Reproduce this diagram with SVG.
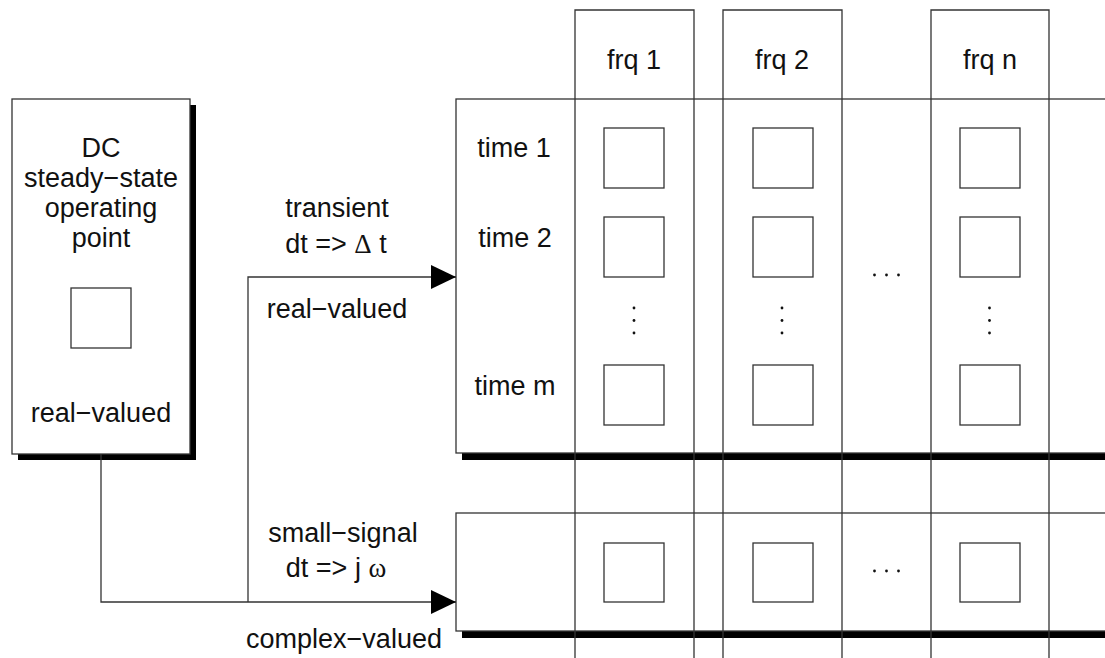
<svg xmlns="http://www.w3.org/2000/svg" width="1105" height="658" viewBox="0 0 1105 658">
  <defs>
    <style>
      .box { fill: #fff; stroke: #333; stroke-width: 1.3; }
      .shadow { fill: #000; stroke: none; }
      .cell { fill: none; stroke: #333; stroke-width: 1.3; }
      .grid { fill: none; stroke: #333; stroke-width: 1.3; }
      .wire { fill: none; stroke: #333; stroke-width: 1.3; }
      .dot { fill: #111; }
      text { font-family: "Liberation Sans", Arial, Helvetica, sans-serif; font-size: 27px; fill: #111; text-anchor: middle; }
      .sym { font-family: "Liberation Serif", "Times New Roman", serif; }
    </style>
    <marker id="arrow" markerUnits="userSpaceOnUse" markerWidth="26" markerHeight="26" refX="25" refY="12" orient="auto">
      <path d="M0,0 L25,12 L0,24 Z" fill="#000"/>
    </marker>
  </defs>

  <!-- DC operating point -->
  <g id="dc-node">
    <rect class="shadow" x="18" y="105" width="178" height="355"/>
    <rect class="box" x="12" y="99" width="178" height="355"/>
    <text x="101" y="157">DC</text>
    <text x="101" y="187">steady−state</text>
    <text x="101" y="217">operating</text>
    <text x="101" y="247">point</text>
    <rect class="cell" x="71" y="288" width="60" height="60"/>
    <text x="101" y="422">real−valued</text>
  </g>

  <!-- transient / time-domain block -->
  <g id="transient-block">
    <rect class="shadow" x="462" y="105" width="700" height="355"/>
    <rect class="box" x="456" y="99" width="700" height="354"/>
    <text x="514" y="157">time 1</text>
    <text x="515" y="247">time 2</text>
    <text x="515" y="395">time m</text>
  </g>

  <!-- small-signal block -->
  <g id="smallsignal-block">
    <rect class="shadow" x="462" y="519" width="700" height="119"/>
    <rect class="box" x="456" y="513" width="700" height="118"/>
  </g>

  <!-- frequency columns -->
  <g id="frequency-columns">
    <path class="grid" d="M575,658 V10 H694 V658 M723,658 V10 H842 V658 M931,658 V10 H1049 V658"/>
    <text x="634" y="69">frq 1</text>
    <text x="782" y="69">frq 2</text>
    <text x="990" y="69">frq n</text>
  </g>

  <!-- solution cells -->
  <g id="cells">
    <rect class="cell" x="604" y="128" width="60" height="60"/>
    <rect class="cell" x="753" y="128" width="60" height="60"/>
    <rect class="cell" x="960" y="128" width="60" height="60"/>
    <rect class="cell" x="604" y="217" width="60" height="60"/>
    <rect class="cell" x="753" y="217" width="60" height="60"/>
    <rect class="cell" x="960" y="217" width="60" height="60"/>
    <rect class="cell" x="604" y="365" width="60" height="60"/>
    <rect class="cell" x="753" y="365" width="60" height="60"/>
    <rect class="cell" x="960" y="365" width="60" height="60"/>
    <rect class="cell" x="604" y="543" width="60" height="59"/>
    <rect class="cell" x="753" y="543" width="60" height="59"/>
    <rect class="cell" x="960" y="543" width="60" height="59"/>
  </g>

  <!-- ellipses -->
  <g id="ellipses">
    <circle class="dot" cx="634" cy="308" r="1.4"/>
    <circle class="dot" cx="634" cy="320.5" r="1.4"/>
    <circle class="dot" cx="634" cy="333" r="1.4"/>
    <circle class="dot" cx="782" cy="308" r="1.4"/>
    <circle class="dot" cx="782" cy="320.5" r="1.4"/>
    <circle class="dot" cx="782" cy="333" r="1.4"/>
    <circle class="dot" cx="989.5" cy="308" r="1.4"/>
    <circle class="dot" cx="989.5" cy="320.5" r="1.4"/>
    <circle class="dot" cx="989.5" cy="333" r="1.4"/>
    <circle class="dot" cx="874.5" cy="275" r="1.4"/>
    <circle class="dot" cx="886.5" cy="275" r="1.4"/>
    <circle class="dot" cx="898.5" cy="275" r="1.4"/>
    <circle class="dot" cx="874.5" cy="571" r="1.4"/>
    <circle class="dot" cx="886.5" cy="571" r="1.4"/>
    <circle class="dot" cx="898.5" cy="571" r="1.4"/>
  </g>

  <!-- connectors -->
  <g id="connectors">
    <path class="wire" d="M101,454 V602 H456" marker-end="url(#arrow)"/>
    <path class="wire" d="M248,602 V277 H456" marker-end="url(#arrow)"/>
    <text x="337" y="217">transient</text>
    <text x="336" y="253">dt =&gt; <tspan class="sym">Δ</tspan> t</text>
    <text x="337" y="318">real−valued</text>
    <text x="343" y="542">small−signal</text>
    <text x="336" y="577">dt =&gt; j <tspan class="sym">ω</tspan></text>
    <text x="344" y="648">complex−valued</text>
  </g>
</svg>
